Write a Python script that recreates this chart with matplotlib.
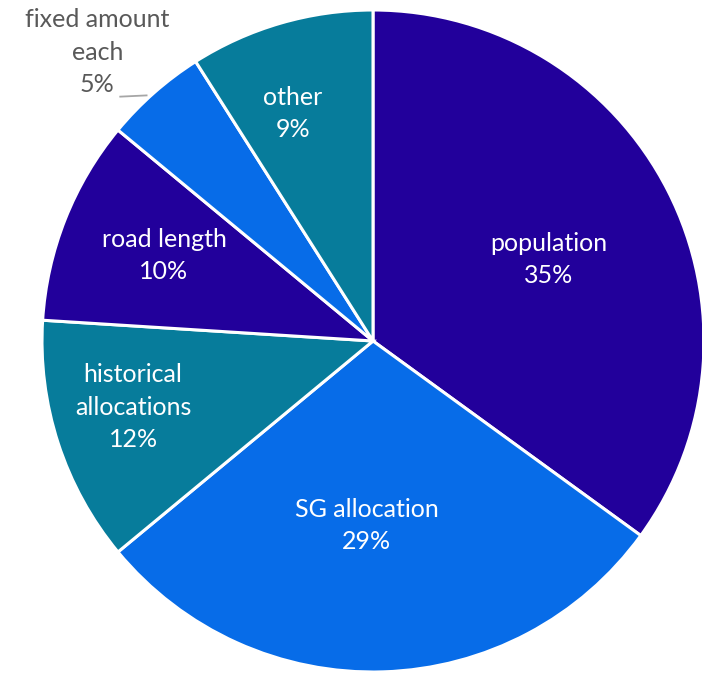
import matplotlib.pyplot as plt
import numpy as np

# allocation shares (percent)
categories = ["population", "SG allocation", "historical\nallocations",
              "road length", "fixed amount\neach", "other"]
shares = [35, 29, 12, 10, 5, 9]
colors = ["#22009B", "#076CE8", "#077C9B", "#22009B", "#076CE8", "#077C9B"]

# label placement: distance from centre (fraction of radius) and a small
# angular nudge away from the slice's mid-angle (degrees)
label_radius = [0.586, 0.558, 0.752, 0.682, 1.206, 0.728]
label_shift = [-2.2, -3.7, -2.6, -0.6, 2.3, 3.2]

plt.rcParams["font.family"] = ["Lato", "DejaVu Sans"]
FS = 18
LS = 1.5

fig = plt.figure(figsize=(7.02, 6.73), dpi=100)
ax = fig.add_axes([0, 0, 1, 1])

wedges, _ = ax.pie(
    shares,
    colors=colors,
    startangle=90,
    counterclock=False,
    radius=1.0,
    wedgeprops=dict(edgecolor="white", linewidth=2.2),
)

for i, w in enumerate(wedges):
    mid_deg = (w.theta1 + w.theta2) / 2
    r = label_radius[i]
    ang = np.deg2rad(mid_deg + label_shift[i])
    text = f"{categories[i]}\n{shares[i]}%"
    outside = r > 1
    ax.text(r * np.cos(ang), r * np.sin(ang), text,
            ha="center", va="center", fontsize=FS, linespacing=LS,
            color="#595959" if outside else "white")
    if outside:
        # short leader line from the slice edge towards its label
        edge = np.deg2rad(mid_deg)
        ex, ey = np.cos(edge), np.sin(edge)
        ax.plot([ex - 0.02, ex - 0.105], [ey - 0.008, ey - 0.012],
                color="#A6A6A6", lw=1.3, solid_capstyle="butt")

ax.set_aspect("auto")
ax.set_xlim(-373 / 331, (702 - 373) / 331)
ax.set_ylim(-(673 - 341) / 331, 341 / 331)
ax.axis("off")

fig.savefig("out.png", dpi=100)
